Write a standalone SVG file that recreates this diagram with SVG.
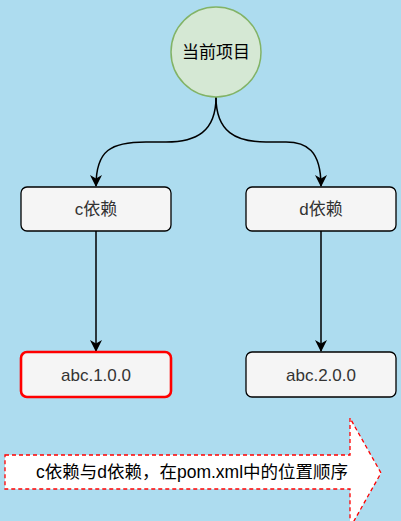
<svg xmlns="http://www.w3.org/2000/svg" width="401" height="521" viewBox="0 0 401 521">
<defs>
<style>
.box{fill:#f5f5f5;stroke:#000;stroke-width:1.3}
.red{fill:#f5f5f5;stroke:#ff0000;stroke-width:2.6}
.t{font-family:"Liberation Sans","Noto Sans CJK SC",sans-serif;font-size:17px;fill:#333;text-anchor:middle}
.e{fill:none;stroke:#000;stroke-width:1.5}
</style>
<marker id="ah" viewBox="0 0 12 12" refX="11" refY="6" markerWidth="12" markerHeight="12" markerUnits="userSpaceOnUse" orient="auto">
<path d="M0,0 L12,6 L0,12 L3.5,6 Z" fill="#000"/>
</marker>
</defs>
<rect width="401" height="521" fill="#addcef"/>
<g id="connectors">
<path class="e" d="M216,97 C216,132 196,142 166,142 L146,142 C111,142 96,150 96,186" marker-end="url(#ah)"/>
<path class="e" d="M216,97 C216,132 236,142 266,142 L286,142 C306,142 321,150 321,186" marker-end="url(#ah)"/>
<path class="e" d="M96,231 L96,351" marker-end="url(#ah)"/>
<path class="e" d="M321,231 L321,351" marker-end="url(#ah)"/>
</g>
<g id="current">
<circle cx="216" cy="52" r="45" fill="#d5e8d4" stroke="#82b366" stroke-width="1.5"/>
<text class="t" x="216" y="58" style="fill:#000">当前项目</text>
</g>
<g id="c">
<rect class="box" x="21" y="187" width="150" height="44" rx="6"/>
<text class="t" x="96" y="215">c依赖</text>
</g>
<g id="d">
<rect class="box" x="246" y="187" width="150" height="44" rx="6"/>
<text class="t" x="321" y="215">d依赖</text>
</g>
<g id="abc1">
<rect class="red" x="21" y="352" width="150" height="45" rx="6"/>
<text class="t" x="96" y="381">abc.1.0.0</text>
</g>
<g id="abc2">
<rect class="box" x="246" y="352" width="150" height="45" rx="6"/>
<text class="t" x="321" y="381">abc.2.0.0</text>
</g>
<g id="order">
<path d="M5,455 L350,455 L350,418 L381,473 L350,528 L350,489 L5,489 Z" fill="#fff" stroke="#ff0000" stroke-width="1.3" stroke-dasharray="4,3"/>
<text class="t" x="192" y="478" style="fill:#000;font-size:17.5px">c依赖与d依赖，在pom.xml中的位置顺序</text>
</g>
</svg>
